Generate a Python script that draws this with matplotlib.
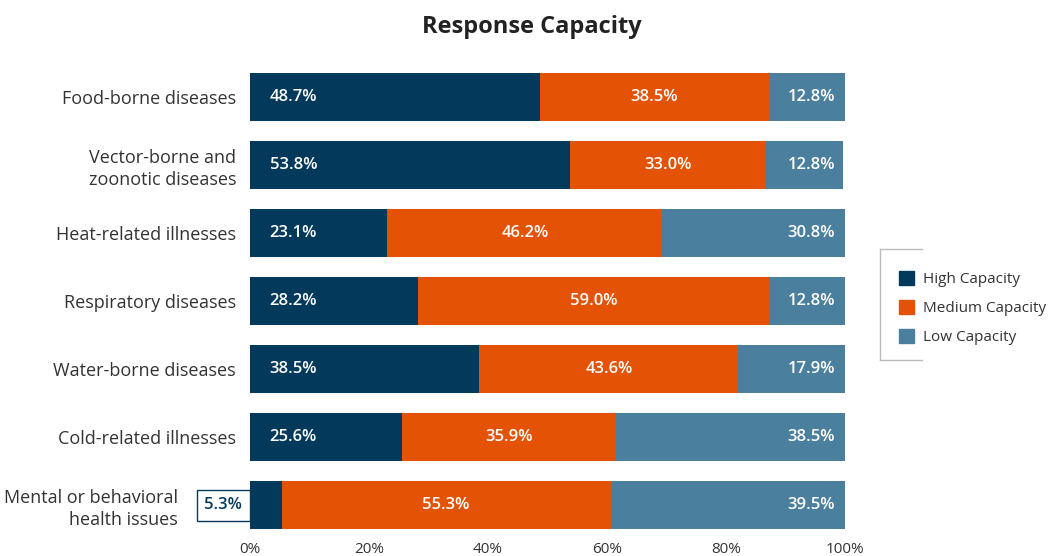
import matplotlib.pyplot as plt
from matplotlib.patches import Rectangle
from matplotlib.lines import Line2D

categories = [
    "Food-borne diseases",
    "Vector-borne and\nzoonotic diseases",
    "Heat-related illnesses",
    "Respiratory diseases",
    "Water-borne diseases",
    "Cold-related illnesses",
    "Mental or behavioral\nhealth issues",
]
high = [48.7, 53.8, 23.1, 28.2, 38.5, 25.6, 5.3]
medium = [38.5, 33.0, 46.2, 59.0, 43.6, 35.9, 55.3]
low = [12.8, 12.8, 30.8, 12.8, 17.9, 38.5, 39.5]
series_names = ["High Capacity", "Medium Capacity", "Low Capacity"]
xticks = [0, 20, 40, 60, 80, 100]

colors = ["#033a5c", "#e35205", "#4a7f9e"]
text_dark = "#333333"

plt.rcParams['font.family'] = ['Open Sans', 'DejaVu Sans']

fig = plt.figure(figsize=(10.5, 5.56), dpi=100)
ax = fig.add_axes([250 / 1050, 1 - 539 / 556, 595 / 1050, 476 / 556])

y = list(range(len(categories)))
bar_h = 0.71
left_med = [h for h in high]
left_low = [h + m for h, m in zip(high, medium)]

ax.barh(y, high, height=bar_h, color=colors[0], label=series_names[0])
ax.barh(y, medium, left=left_med, height=bar_h, color=colors[1], label=series_names[1])
ax.barh(y, low, left=left_low, height=bar_h, color=colors[2], label=series_names[2])

lbl_kw = dict(va='center', color='white', fontsize=12, fontweight='semibold')
for i in y:
    # high segment: inside left, or boxed outside when too narrow
    if high[i] > 10:
        ax.text(3.3, i, f"{high[i]:.1f}%", ha='left', **lbl_kw)
    else:
        ax.text(-1.3, i, f"{high[i]:.1f}%", ha='right', va='center',
                color=colors[0], fontsize=12, fontweight='semibold',
                bbox=dict(boxstyle='square,pad=0.45', fc='white', ec=colors[0], lw=1))
    ax.text(left_med[i] + medium[i] / 2, i, f"{medium[i]:.1f}%", ha='center', **lbl_kw)
    ax.text(98.3, i, f"{low[i]:.1f}%", ha='right', **lbl_kw)

ax.set_xlim(0, 100)
ax.set_ylim(len(categories) - 0.5, -0.5)
ax.set_yticks(y)
ax.set_yticklabels(categories, fontsize=13, color=text_dark, linespacing=1.3)
ax.set_xticks(xticks)
ax.set_xticklabels([f"{t}%" for t in xticks], fontsize=11, color=text_dark)
ax.tick_params(length=0)
ax.tick_params(axis='x', pad=2)
ax.tick_params(axis='y', pad=10)
for s in ax.spines.values():
    s.set_visible(False)

# last label sits further left to clear the boxed value
ax.get_yticklabels()[-1].set_x(-58 / 595)

fig.text(532 / 1050, 1 - 27 / 556, "Response Capacity", ha='center', va='center',
         fontsize=17, fontweight='bold', color='#222222')

# legend with bracket-style frame
handles = [Rectangle((0, 0), 1, 1, color=c) for c in colors]
leg = fig.legend(handles, series_names, loc='center left',
                 bbox_to_anchor=(885 / 1050, 1 - 308 / 556), frameon=False,
                 fontsize=11, handlelength=1.0, handleheight=1.0,
                 handletextpad=0.6, labelspacing=0.85)
for t in leg.get_texts():
    t.set_color(text_dark)

x0, x1 = 880 / 1050, 922 / 1050
ytop, ybot = 1 - 249 / 556, 1 - 360 / 556
frame_kw = dict(color='#bbbbbb', lw=1, transform=fig.transFigure)
fig.add_artist(Line2D([x0, x0], [ybot, ytop], **frame_kw))
fig.add_artist(Line2D([x0, x1], [ytop, ytop], **frame_kw))
fig.add_artist(Line2D([x0, x1], [ybot, ybot], **frame_kw))

fig.savefig("out.png", dpi=100)
